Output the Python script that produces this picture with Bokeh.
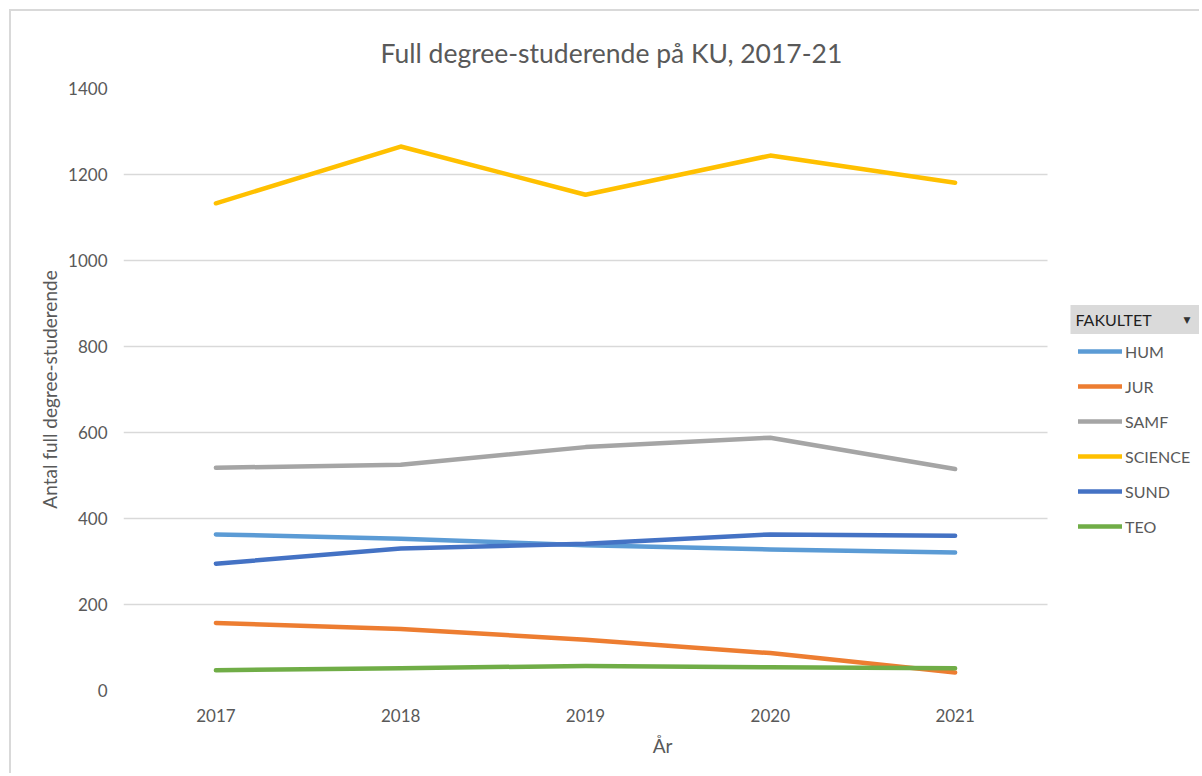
from bokeh.plotting import figure
from bokeh.models import Legend, LegendItem, Label, FixedTicker, Range1d
from bokeh.embed import file_html
from bokeh.resources import INLINE

years = [2017, 2018, 2019, 2020, 2021]
series_names = ["HUM", "JUR", "SAMF", "SCIENCE", "SUND", "TEO"]
hum = [363, 353, 338, 328, 321]
jur = [157, 143, 118, 87, 42]
samf = [518, 525, 566, 588, 515]
science = [1133, 1265, 1153, 1244, 1181]
sund = [295, 330, 341, 363, 360]
teo = [47, 52, 57, 54, 52]
colors = ["#5B9BD5", "#ED7D31", "#A5A5A5", "#FFC000", "#4472C4", "#70AD47"]
y_ticks = [0, 200, 400, 600, 800, 1000, 1200, 1400]

title_text = "Full degree-studerende på KU, 2017-21"
x_label = "År"
y_label = "Antal full degree-studerende"
legend_title = "FAKULTET"

FONT = "Lato"
TXT = "#595959"

# plot band: half a category on each side of the first/last year
x_lo, x_hi = years[0] - 0.5, years[-1] + 0.5
W, H = 1190, 764
LEFT, TOP, BOTTOM = 112, 77, 85
# frame extends to the right canvas edge (legend lives there), keep year spacing
frame_w = W - LEFT
cat_px = 924 / len(years)
x_end = x_lo + frame_w / cat_px

p = figure(
    x_range=Range1d(x_lo, x_end),
    y_range=Range1d(0, 1400),
    width=W, height=H,
    output_backend="svg", toolbar_location=None,
    min_border_left=LEFT, min_border_right=0,
    min_border_top=TOP, min_border_bottom=BOTTOM,
)
p.styles = {"border-left": "2px solid #d9d9d9", "border-top": "2px solid #d9d9d9",
            "margin-left": "9px", "margin-top": "9px"}
p.outline_line_color = None
p.background_fill_color = "white"
p.border_fill_color = "white"

p.title.text = title_text
p.title.align = "left"
p.title.offset = 257
p.title.text_font = FONT
p.title.text_font_size = "26.5px"
p.title.text_font_style = "normal"
p.title.text_color = TXT
p.title.standoff = 40

p.yaxis.ticker = FixedTicker(ticks=y_ticks)
p.yaxis.axis_line_color = None
p.yaxis.major_tick_line_color = None
p.yaxis.minor_tick_line_color = None
p.yaxis.major_label_text_font = FONT
p.yaxis.major_label_text_font_size = "17px"
p.yaxis.major_label_text_color = TXT
p.yaxis.major_label_standoff = 10
p.yaxis.axis_label = y_label
p.yaxis.axis_label_text_font = FONT
p.yaxis.axis_label_text_font_size = "19px"
p.yaxis.axis_label_text_font_style = "normal"
p.yaxis.axis_label_text_color = TXT
p.yaxis.axis_label_standoff = 4

p.xaxis.ticker = FixedTicker(ticks=years)
p.xaxis.bounds = (x_lo, x_hi)
p.xaxis.axis_line_color = None
p.xaxis.major_tick_line_color = None
p.xaxis.minor_tick_line_color = None
p.xaxis.major_label_text_font = FONT
p.xaxis.major_label_text_font_size = "17px"
p.xaxis.major_label_text_color = TXT
p.xaxis.major_label_standoff = 12
p.xaxis.axis_label = x_label
p.xaxis.axis_label_text_font = FONT
p.xaxis.axis_label_text_font_size = "19px"
p.xaxis.axis_label_text_font_style = "normal"
p.xaxis.axis_label_text_color = TXT
p.xaxis.axis_label_standoff = 9

p.xgrid.grid_line_color = None
p.ygrid.grid_line_color = "#d9d9d9"
p.ygrid.grid_line_width = 1.5
p.ygrid.cross_bounds = (x_lo, x_hi)

all_series = [hum, jur, samf, science, sund, teo]
items = []
for name, vals, col in zip(series_names, all_series, colors):
    r = p.line(years, vals, line_color=col, line_width=4.5,
               line_cap="round", line_join="round")
    items.append(LegendItem(label=name, renderers=[r]))

legend = Legend(
    items=items, location=(955, 154),
    label_text_font=FONT, label_text_font_size="16px", label_text_color=TXT,
    glyph_width=44, glyph_height=20, label_height=20, label_standoff=3,
    spacing=15, padding=0, margin=0,
    border_line_color=None, background_fill_alpha=0,
)
p.add_layout(legend, "center")

hdr = Label(x=947, y=371, x_units="screen", y_units="screen",
            text=legend_title, text_font=FONT, text_font_size="16px",
            text_color="#1f1f1f", text_baseline="middle", text_align="left",
            background_fill_color="#dadada",
            padding={"left": 5, "right": 53, "top": 5, "bottom": 5})
p.add_layout(hdr)
arrow = Label(x=1060, y=371, x_units="screen", y_units="screen",
              text="▼", text_font="DejaVu Sans", text_font_size="9px",
              text_color="#333333", text_baseline="middle", text_align="left")
p.add_layout(arrow)

open("out.html", "w").write(file_html(p, INLINE))
